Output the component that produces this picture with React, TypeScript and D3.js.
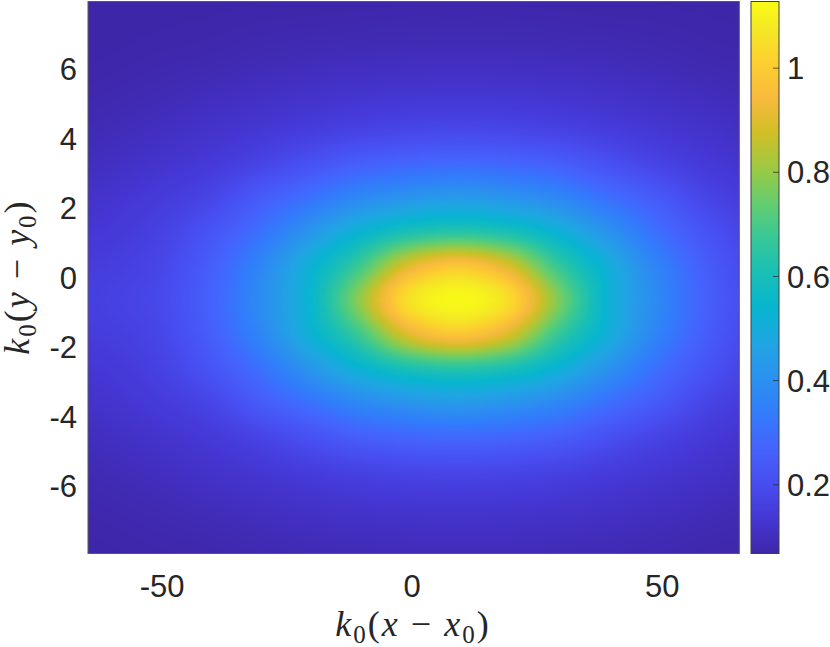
import React, { useMemo } from 'react';
import * as d3 from 'd3';

// field samples (rows top -> bottom, columns left -> right)
const X_VALUES = [-71, -61, -51, -41, -31, -21, -11, -1, 9, 19, 29, 39, 49, 59, 69];
const Y_VALUES = [8.35, 7.35, 6.35, 5.35, 4.35, 3.35, 2.35, 1.35, 0.35, -0.65, -1.65, -2.65, -3.65, -4.65, -5.65, -6.65, -7.65, -8.65];
const FIELD = [
  [0.065, 0.065, 0.066, 0.067, 0.068, 0.069, 0.069, 0.07, 0.07, 0.07, 0.069, 0.069, 0.068, 0.067, 0.066],
  [0.066, 0.067, 0.069, 0.071, 0.074, 0.076, 0.078, 0.08, 0.08, 0.08, 0.078, 0.076, 0.074, 0.071, 0.069],
  [0.068, 0.07, 0.075, 0.079, 0.086, 0.092, 0.096, 0.099, 0.1, 0.099, 0.096, 0.092, 0.086, 0.079, 0.075],
  [0.072, 0.078, 0.086, 0.096, 0.106, 0.116, 0.124, 0.128, 0.13, 0.128, 0.124, 0.116, 0.106, 0.096, 0.086],
  [0.08, 0.09, 0.102, 0.118, 0.132, 0.148, 0.165, 0.176, 0.18, 0.176, 0.165, 0.148, 0.132, 0.118, 0.102],
  [0.092, 0.105, 0.122, 0.14, 0.17, 0.21, 0.25, 0.27, 0.28, 0.27, 0.25, 0.21, 0.17, 0.14, 0.122],
  [0.11, 0.125, 0.145, 0.175, 0.24, 0.3, 0.37, 0.41, 0.43, 0.41, 0.37, 0.3, 0.24, 0.175, 0.145],
  [0.13, 0.14, 0.165, 0.22, 0.3, 0.41, 0.52, 0.6, 0.63, 0.6, 0.52, 0.41, 0.3, 0.22, 0.165],
  [0.145, 0.155, 0.18, 0.25, 0.36, 0.51, 0.67, 0.89, 0.98, 0.89, 0.67, 0.51, 0.36, 0.25, 0.18],
  [0.155, 0.165, 0.19, 0.26, 0.38, 0.53, 0.78, 1.05, 1.12, 1.05, 0.78, 0.53, 0.38, 0.26, 0.19],
  [0.145, 0.155, 0.18, 0.25, 0.36, 0.51, 0.67, 0.89, 0.98, 0.89, 0.67, 0.51, 0.36, 0.25, 0.18],
  [0.13, 0.14, 0.165, 0.22, 0.3, 0.41, 0.52, 0.6, 0.63, 0.6, 0.52, 0.41, 0.3, 0.22, 0.165],
  [0.11, 0.125, 0.145, 0.175, 0.24, 0.3, 0.37, 0.41, 0.43, 0.41, 0.37, 0.3, 0.24, 0.175, 0.145],
  [0.092, 0.105, 0.122, 0.14, 0.17, 0.21, 0.25, 0.27, 0.28, 0.27, 0.25, 0.21, 0.17, 0.14, 0.122],
  [0.08, 0.09, 0.102, 0.118, 0.132, 0.148, 0.165, 0.176, 0.18, 0.176, 0.165, 0.148, 0.132, 0.118, 0.102],
  [0.072, 0.078, 0.086, 0.096, 0.106, 0.116, 0.124, 0.128, 0.13, 0.128, 0.124, 0.116, 0.106, 0.096, 0.086],
  [0.068, 0.07, 0.075, 0.079, 0.086, 0.092, 0.096, 0.099, 0.1, 0.099, 0.096, 0.092, 0.086, 0.079, 0.075],
  [0.066, 0.067, 0.069, 0.071, 0.074, 0.076, 0.078, 0.08, 0.08, 0.08, 0.078, 0.076, 0.074, 0.071, 0.069],
];

const X_TICKS = [-50, 0, 50];
const Y_TICKS = [-6, -4, -2, 0, 2, 4, 6];
const C_TICKS = [0.2, 0.4, 0.6, 0.8, 1];
const X_DOMAIN = [-64.8, 65.4];
const Y_DOMAIN = [-7.95, 7.95];
const C_DOMAIN = [0.068, 1.128];

// parula colormap anchors
const PARULA = [
  [0.2422, 0.1504, 0.6603], [0.2706, 0.2147, 0.8364], [0.2813, 0.3006, 0.9414],
  [0.2699, 0.3892, 0.9906], [0.1963, 0.4847, 0.9892], [0.1687, 0.5703, 0.9359],
  [0.1248, 0.6459, 0.8883], [0.0297, 0.7082, 0.8163], [0.0964, 0.75, 0.712],
  [0.2161, 0.7843, 0.5923], [0.3909, 0.8029, 0.4354], [0.6174, 0.7876, 0.2612],
  [0.8203, 0.7498, 0.1535], [0.9728, 0.7298, 0.2394], [0.9892, 0.8136, 0.1885],
  [0.9597, 0.9135, 0.1423], [0.9769, 0.9839, 0.0805],
];
const PARULA_POS = [0, 4, 8, 12, 16, 20, 24, 28, 32, 36, 40, 44, 48, 52, 56, 60, 63].map(i => i / 63);

const W = 830, H = 647;
const PX0 = 88, PX1 = 739.3, PY0 = 1.5, PY1 = 553.5;
const CB0 = 751, CB1 = 779;
const TEXT = '#262626';

const parula = d3.scaleLinear<string>()
  .domain(PARULA_POS)
  .range(PARULA.map(c => d3.rgb(c[0] * 255, c[1] * 255, c[2] * 255).toString()))
  .interpolate(d3.interpolateRgb)
  .clamp(true);

function cubic(p0: number, p1: number, p2: number, p3: number, t: number) {
  return p1 + 0.5 * t * (p2 - p0 + t * (2 * p0 - 5 * p1 + 4 * p2 - p3 + t * (3 * (p1 - p2) + p3 - p0)));
}

function sampleField(u: number, v: number) {
  const nr = FIELD.length, nc = FIELD[0].length;
  const cell = (r: number, c: number) => FIELD[Math.max(0, Math.min(nr - 1, r))][Math.max(0, Math.min(nc - 1, c))];
  const c0 = Math.floor(u), r0 = Math.floor(v);
  const tu = u - c0, tv = v - r0;
  const rows = [-1, 0, 1, 2].map(dr => cubic(cell(r0 + dr, c0 - 1), cell(r0 + dr, c0), cell(r0 + dr, c0 + 1), cell(r0 + dr, c0 + 2), tu));
  return cubic(rows[0], rows[1], rows[2], rows[3], tv);
}

export default function App() {
  const xScale = d3.scaleLinear().domain(X_DOMAIN).range([PX0, PX1]);
  const yScale = d3.scaleLinear().domain(Y_DOMAIN).range([PY1, PY0]);
  const cScale = d3.scaleLinear().domain(C_DOMAIN).range([PY1, PY0]);
  const norm = d3.scaleLinear().domain(C_DOMAIN).range([0, 1]).clamp(true);

  const imgUrl = useMemo(() => {
    const w = Math.round(PX1 - PX0), h = Math.round(PY1 - PY0);
    const canvas = document.createElement('canvas');
    canvas.width = w; canvas.height = h;
    const ctx = canvas.getContext('2d')!;
    const img = ctx.createImageData(w, h);
    const dx = X_VALUES[1] - X_VALUES[0];
    const dy = Y_VALUES[0] - Y_VALUES[1];
    for (let j = 0; j < h; j++) {
      const y = yScale.invert(PY0 + (j + 0.5) * (PY1 - PY0) / h);
      const v = (Y_VALUES[0] - y) / dy;
      for (let i = 0; i < w; i++) {
        const x = xScale.invert(PX0 + (i + 0.5) * (PX1 - PX0) / w);
        const u = (x - X_VALUES[0]) / dx;
        const val = sampleField(u, v);
        const col = d3.rgb(parula(norm(val)));
        const k = (j * w + i) * 4;
        img.data[k] = col.r; img.data[k + 1] = col.g; img.data[k + 2] = col.b; img.data[k + 3] = 255;
      }
    }
    ctx.putImageData(img, 0, 0);
    return canvas.toDataURL();
  }, []);

  const labelFont = 'Liberation Sans, Arial, Helvetica, sans-serif';
  const mathFont = 'Liberation Serif, Times New Roman, serif';

  return (
    <svg width={W} height={H} style={{ position: 'absolute', left: 0, top: 0, background: '#fff' }}>
      <defs>
        <linearGradient id="cbar" x1="0" y1="1" x2="0" y2="0">
          {PARULA.map((c, i) => (
            <stop key={i} offset={PARULA_POS[i]} stopColor={d3.rgb(c[0] * 255, c[1] * 255, c[2] * 255).toString()} />
          ))}
        </linearGradient>
      </defs>

      {/* heat map */}
      <image href={imgUrl} x={PX0} y={PY0} width={PX1 - PX0} height={PY1 - PY0} preserveAspectRatio="none" />
      <rect x={PX0} y={PY0} width={PX1 - PX0} height={PY1 - PY0} fill="none" stroke="#5a5a5a" strokeWidth={1} />

      {/* y tick labels */}
      {Y_TICKS.map(t => (
        <text key={t} x={77} y={yScale(t)} dy="0.36em" textAnchor="end" fontFamily={labelFont} fontSize={31} fill={TEXT}>{t}</text>
      ))}
      {/* x tick labels */}
      {X_TICKS.map(t => (
        <text key={t} x={xScale(t)} y={597} textAnchor="middle" fontFamily={labelFont} fontSize={31} fill={TEXT}>{t}</text>
      ))}

      {/* colorbar */}
      <rect x={CB0} y={PY0} width={CB1 - CB0} height={PY1 - PY0} fill="url(#cbar)" stroke="#404040" strokeWidth={1} />
      {C_TICKS.map(t => (
        <g key={t}>
          <line x1={CB1 - 6} x2={CB1} y1={cScale(t)} y2={cScale(t)} stroke="#262626" strokeOpacity={0.7} strokeWidth={1} />
          <text x={787} y={cScale(t)} dy="0.36em" fontFamily={labelFont} fontSize={31} fill={TEXT}>{t}</text>
        </g>
      ))}

      {/* axis labels */}
      <text x={413} y={636} textAnchor="middle" fontFamily={mathFont} fontSize={36} letterSpacing={2} fill={TEXT}>
        <tspan fontStyle="italic">k</tspan>
        <tspan fontSize={25} dy={7}>0</tspan>
        <tspan dy={-7}>(</tspan>
        <tspan fontStyle="italic">x</tspan>
        <tspan>{' − '}</tspan>
        <tspan fontStyle="italic">x</tspan>
        <tspan fontSize={25} dy={7}>0</tspan>
        <tspan dy={-7}>)</tspan>
      </text>
      <text transform="translate(29,277) rotate(-90)" textAnchor="middle" fontFamily={mathFont} fontSize={36} letterSpacing={2} fill={TEXT}>
        <tspan fontStyle="italic">k</tspan>
        <tspan fontSize={25} dy={7}>0</tspan>
        <tspan dy={-7}>(</tspan>
        <tspan fontStyle="italic">y</tspan>
        <tspan>{' − '}</tspan>
        <tspan fontStyle="italic">y</tspan>
        <tspan fontSize={25} dy={7}>0</tspan>
        <tspan dy={-7}>)</tspan>
      </text>
    </svg>
  );
}
